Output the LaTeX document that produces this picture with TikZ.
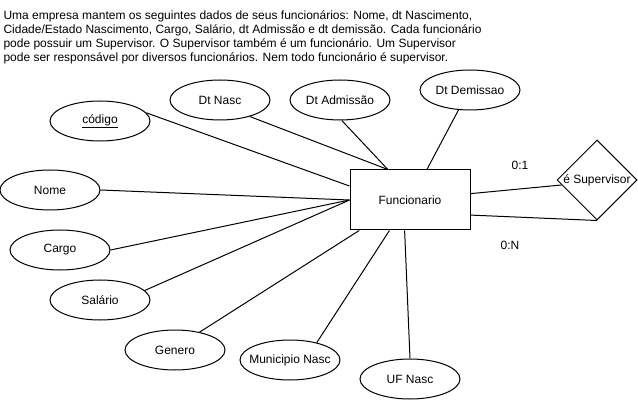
\documentclass[tikz,border=0pt]{standalone}
\usepackage{fontspec}
\setmainfont{Liberation Sans}
\usetikzlibrary{shapes.geometric}
\begin{document}
\begin{tikzpicture}[x=1pt,y=-1pt,line width=1pt,
  attr/.style={draw,ellipse,minimum width=100pt,minimum height=40pt,inner sep=0pt,font=\fontsize{12}{14}\selectfont},
  entity/.style={draw,rectangle,minimum width=120pt,minimum height=60pt,inner sep=0pt,font=\fontsize{12}{14}\selectfont},
  rel/.style={draw,diamond,minimum width=80pt,minimum height=80pt,inner sep=0pt,font=\fontsize{12}{14}\selectfont},
  card/.style={inner sep=0pt,font=\fontsize{12}{14}\selectfont},
  conn/.style={draw,line width=1pt}]
\useasboundingbox (0,0) rectangle (638,401);
\node[anchor=north west,inner sep=0pt,align=left,font=\fontsize{12}{13.9}\selectfont] (desc) at (3,10)
 {Uma empresa mantem os seguintes dados de seus funcionários: Nome, dt Nascimento,\\
  Cidade/Estado Nascimento, Cargo, Salário, dt Admissão e dt demissão. Cada funcionário\\
  pode possuir um Supervisor. O Supervisor também é um funcionário. Um Supervisor\\
  pode ser responsável por diversos funcionários. Nem todo funcionário é supervisor.};
\node[entity] (func) at (410,200) {Funcionario};
\node[attr] (cod) at (100,121) {\makebox[0pt]{\underline{código}}};
\node[attr] (dtn) at (220,100) {\makebox[0pt]{Dt Nasc}};
\node[attr] (dta) at (340,100) {\makebox[0pt]{Dt Admissão}};
\node[attr] (dtd) at (470,90) {\makebox[0pt]{Dt Demissao}};
\node[attr] (nome) at (50,190) {\makebox[0pt]{Nome}};
\node[attr] (cargo) at (60,250) {\makebox[0pt]{Cargo}};
\node[attr] (sal) at (100,300) {\makebox[0pt]{Salário}};
\node[attr] (gen) at (175,350) {\makebox[0pt]{Genero}};
\node[attr] (mun) at (290,360) {\makebox[0pt]{Municipio Nasc}};
\node[attr] (uf) at (410,379) {\makebox[0pt]{UF Nasc}};
\node[rel] (sup) at (597,180) {\makebox[0pt]{é Supervisor}};
\node[card] (c1) at (520,165) {0:1};
\node[card] (cn) at (510,245) {0:N};
\draw[conn] (cod.10) -- (func.167);
\draw[conn] (dtn.-29) -- (func.126);
\draw[conn] (dta.-85) -- (func.126);
\draw[conn] (dtd.-120) -- (func.61);
\draw[conn] (nome.east) -- (func.west);
\draw[conn] (cargo.east) -- (func.west);
\draw[conn] (sal.12) -- (func.west);
\draw[conn] (gen.36) -- (func.211);
\draw[conn] (mun.33) -- (func.236);
\draw[conn] (uf.north) -- (func.260);
\draw[conn] (func.6) -- (sup.188);
\draw[conn] (func.-14) -- (sup.south);
\end{tikzpicture}
\end{document}
